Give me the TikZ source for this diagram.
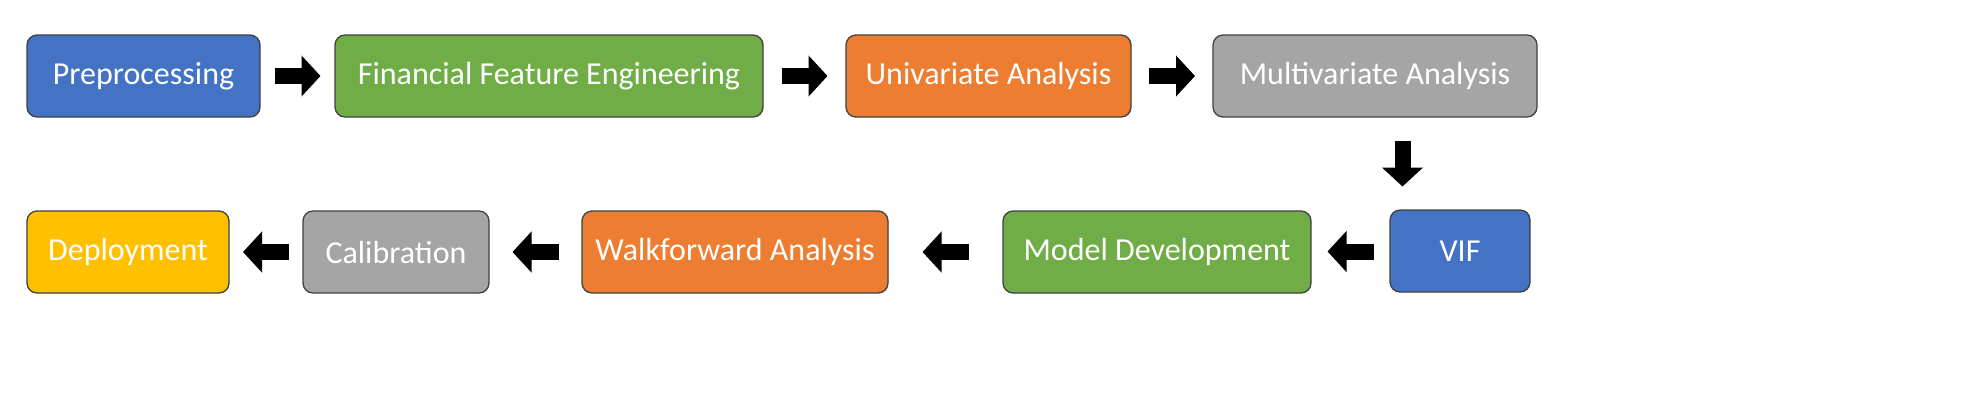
\documentclass[tikz,border=0pt]{standalone}
\usepackage{fontspec}
\setmainfont{Carlito}
\usetikzlibrary{arrows.meta, calc, positioning}
\definecolor{stepblue}{HTML}{4472C4}
\definecolor{stepgreen}{HTML}{70AD47}
\definecolor{steporange}{HTML}{ED7D31}
\definecolor{stepgray}{HTML}{A5A5A5}
\definecolor{stepyellow}{HTML}{FFC000}
\tikzset{
  stage/.style={draw=black!75, line width=0.65pt, rounded corners=5pt, minimum height=41pt,
    text=white, font=\fontsize{16}{19}\selectfont, inner sep=0pt},
  flow/.style={line width=8pt, -{Triangle[length=9.5pt, width=20pt]}},
}
\begin{document}
\begin{tikzpicture}[x=0.5pt, y=-0.5pt]
  \useasboundingbox (0,0) rectangle (1980,414);
  % top row
  \node[stage, fill=stepblue, minimum width=116.5pt] (pre) at (143.5,76) {Preprocessing};
  \node[stage, fill=stepgreen, minimum width=214pt] (ffe) at (549,76) {Financial Feature Engineering};
  \node[stage, fill=steporange, minimum width=142.5pt] (uni) at (988.5,76) {Univariate Analysis};
  \node[stage, fill=stepgray, minimum width=162pt] (mva) at (1375,76) {Multivariate Analysis};
  % bottom row
  \node[stage, fill=stepblue, minimum width=70pt] (vif) at (1460,251) {VIF};
  \node[stage, fill=stepgreen, minimum width=154pt] (mdl) at (1157,252) {Model Development};
  \node[stage, fill=steporange, minimum width=153pt] (wfa) at (735,252) {Walkforward Analysis};
  \node[stage, fill=stepgray, minimum width=93pt] (cal) at (396,252) {Calibration};
  \node[stage, fill=stepyellow, minimum width=101pt] (dep) at (128,252) {Deployment};

  \draw[flow] ($(pre.east)!.5!(ffe.west)+(-23,0)$) -- ++(46,0);
  \draw[flow] ($(ffe.east)!.5!(uni.west)+(-23,0)$) -- ++(46,0);
  \draw[flow] ($(uni.east)!.5!(mva.west)+(-23,0)$) -- ++(46,0);
  \draw[flow] ($(mva.south)!.5!(vif.north)+(-15,-23)$) -- ++(0,46);
  \draw[flow] ($(vif.west)!.5!(mdl.east)+(23,0)$) -- ++(-46,0);
  \draw[flow] ($(mdl.west)!.5!(wfa.east)+(23,0)$) -- ++(-46,0);
  \draw[flow] ($(wfa.west)!.5!(cal.east)+(23,0)$) -- ++(-46,0);
  \draw[flow] ($(cal.west)!.5!(dep.east)+(23,0)$) -- ++(-46,0);
\end{tikzpicture}
\end{document}
